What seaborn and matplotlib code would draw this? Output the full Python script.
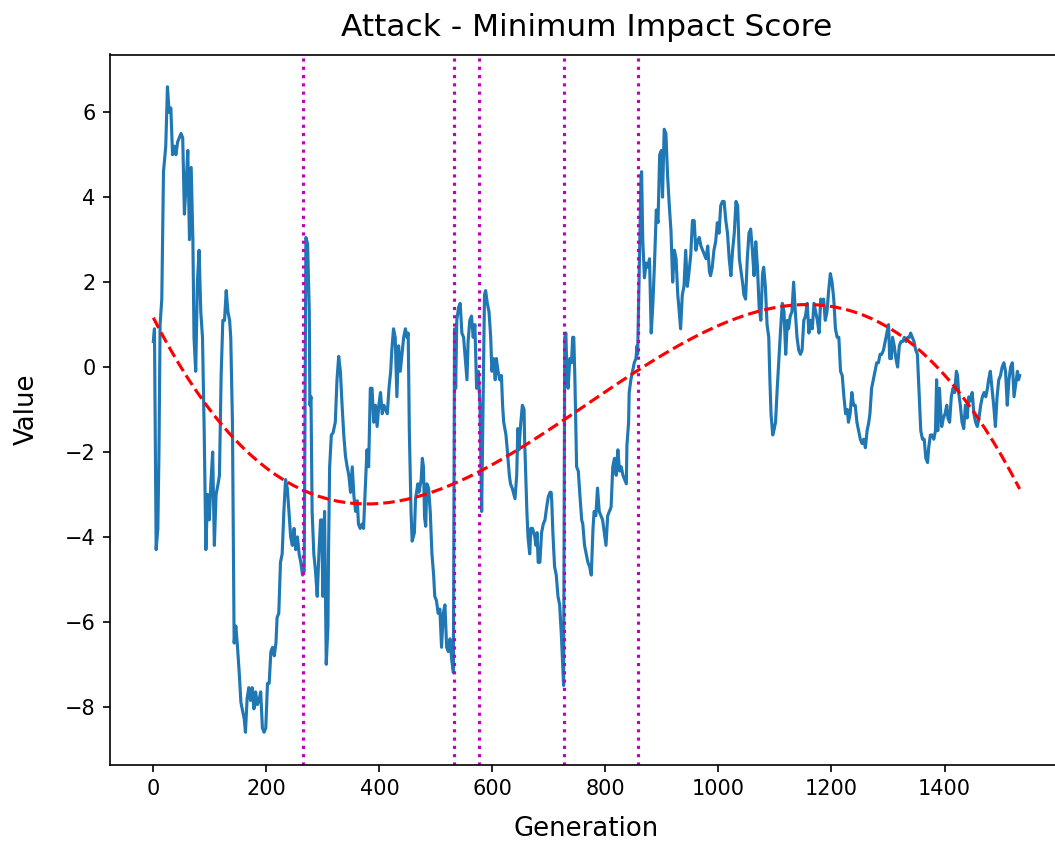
import matplotlib
matplotlib.use("Agg")
import matplotlib.pyplot as plt
import numpy as np
import pandas as pd
import seaborn as sns

# Generation index of each recorded minimum impact score
GENERATION = [
    0, 2, 5, 8, 10, 12, 15, 18, 22, 25,
    28, 31, 34, 37, 40, 43, 46, 49, 52, 55,
    58, 61, 64, 67, 70, 72, 75, 78, 81, 84,
    87, 90, 93, 96, 99, 102, 105, 108, 111, 114,
    117, 120, 123, 126, 129, 132, 135, 137, 140, 143,
    146, 149, 152, 155, 158, 161, 163, 166, 169, 172,
    175, 178, 181, 184, 187, 190, 193, 196, 199, 202,
    205, 208, 211, 214, 217, 219, 222, 225, 228, 231,
    234, 237, 240, 243, 246, 249, 252, 255, 258, 261,
    264, 267, 270, 273, 276, 277, 279, 281, 284, 287,
    290, 293, 296, 298, 300, 303, 306, 309, 310, 312,
    315, 318, 322, 325, 328, 331, 334, 337, 340, 343,
    346, 349, 352, 355, 358, 361, 363, 366, 369, 372,
    375, 378, 381, 384, 387, 390, 393, 396, 399, 402,
    405, 408, 411, 414, 417, 420, 422, 425, 428, 431,
    434, 437, 440, 443, 446, 449, 451, 453, 456, 458,
    462, 464, 468, 470, 474, 476, 478, 480, 482, 484,
    487, 490, 493, 496, 498, 501, 504, 507, 510, 513,
    516, 519, 522, 525, 528, 531, 533, 535, 537, 540,
    543, 546, 549, 552, 555, 557, 560, 563, 566, 569,
    572, 575, 578, 581, 584, 586, 588, 591, 594, 597,
    599, 602, 605, 607, 610, 613, 616, 618, 620, 624,
    626, 630, 632, 635, 640, 643, 645, 647, 650, 653,
    656, 657, 659, 661, 663, 666, 668, 671, 673, 675,
    677, 679, 681, 684, 687, 690, 693, 696, 699, 702,
    704, 705, 707, 710, 713, 716, 719, 722, 725, 726,
    728, 730, 732, 734, 737, 740, 742, 744, 746, 749,
    752, 755, 758, 760, 763, 766, 769, 772, 775, 778,
    780, 783, 786, 789, 792, 795, 798, 801, 804, 807,
    810, 813, 816, 819, 822, 825, 828, 831, 834, 837,
    838, 841, 842, 845, 848, 851, 854, 856, 857, 860,
    863, 864, 866, 869, 872, 875, 878, 881, 884, 887,
    890, 893, 896, 899, 901, 904, 907, 910, 913, 916,
    919, 922, 925, 928, 930, 933, 936, 939, 942, 945,
    948, 951, 954, 957, 960, 963, 966, 969, 972, 975,
    978, 981, 984, 986, 989, 992, 995, 998, 1001, 1004,
    1007, 1010, 1013, 1016, 1019, 1022, 1025, 1028, 1031, 1034,
    1037, 1040, 1043, 1045, 1048, 1051, 1054, 1057, 1060, 1063,
    1066, 1069, 1072, 1075, 1078, 1080, 1083, 1086, 1089, 1091,
    1093, 1096, 1098, 1101, 1104, 1107, 1110, 1113, 1116, 1119,
    1122, 1124, 1127, 1130, 1133, 1136, 1139, 1142, 1145, 1148,
    1151, 1154, 1157, 1160, 1163, 1166, 1169, 1172, 1175, 1178,
    1181, 1183, 1186, 1189, 1192, 1195, 1198, 1201, 1204, 1207,
    1210, 1213, 1216, 1219, 1222, 1225, 1228, 1230, 1233, 1236,
    1239, 1242, 1245, 1248, 1251, 1254, 1257, 1260, 1263, 1266,
    1268, 1271, 1274, 1277, 1280, 1283, 1286, 1289, 1292, 1295,
    1298, 1301, 1303, 1306, 1308, 1311, 1314, 1317, 1320, 1323,
    1326, 1329, 1332, 1335, 1338, 1340, 1343, 1346, 1349, 1352,
    1355, 1358, 1361, 1364, 1367, 1370, 1372, 1375, 1378, 1381,
    1384, 1386, 1388, 1391, 1393, 1395, 1398, 1401, 1404, 1406,
    1409, 1412, 1415, 1418, 1421, 1423, 1425, 1428, 1431, 1434,
    1437, 1440, 1443, 1446, 1449, 1452, 1455, 1458, 1461, 1464,
    1467, 1470, 1473, 1476, 1478, 1481, 1484, 1487, 1490, 1493,
    1496, 1499, 1502, 1505, 1508, 1511, 1514, 1517, 1520, 1523,
    1526, 1529, 1531, 1533,
]

# Minimum impact score of the attack at each generation
IMPACT = [
    0.6, 0.9, -4.3, -3.8, -2.0, 1.0, 1.6, 4.6, 5.2, 6.6,
    6.0, 6.1, 5.0, 5.2, 5.0, 5.3, 5.4, 5.5, 5.4, 3.6,
    4.3, 5.1, 3.0, 4.7, 3.0, 0.7, -0.1, 2.0, 2.75, 1.3,
    0.7, -1.5, -4.3, -3.0, -3.6, -2.7, -2.0, -4.2, -3.0, -2.8,
    -2.55, -0.2, 1.1, 1.1, 1.8, 1.3, 1.1, 0.7, -1.3, -6.5,
    -6.1, -6.6, -7.2, -7.9, -8.1, -8.3, -8.6, -7.8, -7.55, -7.85,
    -7.55, -8.05, -7.65, -7.95, -7.85, -7.65, -8.5, -8.6, -8.5, -7.45,
    -7.45, -6.7, -6.6, -6.8, -6.5, -5.9, -5.8, -4.6, -4.4, -3.4,
    -2.65, -2.85, -3.4, -4.0, -4.2, -3.8, -4.3, -4.0, -4.4, -4.6,
    -4.9, -4.8, 3.05, 2.9, 1.3, -0.9, -0.7, -3.4, -4.4, -4.8,
    -5.4, -4.4, -3.6, -3.6, -5.4, -3.4, -7.0, -6.1, -4.4, -2.35,
    -1.6, -1.55, -1.3, -0.3, 0.25, -0.1, -0.9, -1.6, -2.1, -2.35,
    -2.55, -2.95, -2.35, -3.05, -3.4, -3.15, -3.7, -3.8, -3.7, -3.8,
    -2.85, -1.95, -2.35, -0.5, -0.5, -1.3, -0.9, -1.4, -0.9, -0.6,
    -1.1, -0.9, -1.0, -1.1, -0.5, -0.1, 0.4, 0.9, 0.7, -0.7,
    0.5, -0.1, 0.3, 0.7, 0.9, 0.7, 0.8, -1.5, -3.4, -4.1,
    -3.9, -3.1, -2.75, -2.95, -2.65, -2.15, -2.35, -3.55, -3.75, -2.75,
    -2.85, -3.4, -4.4, -4.9, -5.4, -5.5, -5.8, -5.7, -6.6, -5.8,
    -5.6, -6.6, -6.7, -6.4, -6.9, -7.2, 0.9, -0.5, 1.1, 1.4,
    1.5, 0.8, 0.7, 0.2, -0.3, 0.6, 1.1, 1.2, 0.7, 1.0,
    -0.5, -0.1, -0.9, -3.4, -0.3, 1.7, 1.8, 1.5, 1.3, 0.7,
    -0.1, 0.2, -0.3, 0.2, -0.1, -0.3, -0.2, -0.9, -1.3, -1.6,
    -1.9, -2.55, -2.75, -2.85, -3.1, -2.55, -1.45, -1.95, -1.35, -0.9,
    -1.0, -1.7, -2.55, -3.4, -4.0, -4.4, -3.8, -3.8, -3.9, -4.0,
    -4.2, -3.9, -4.6, -4.6, -3.9, -3.7, -3.6, -3.3, -3.05, -2.95,
    -2.95, -3.15, -3.9, -4.7, -4.9, -5.4, -5.6, -6.3, -7.2, -7.5,
    0.7, 0.8, -0.2, -0.5, 0.2, 0.1, 0.7, 0.7, -0.3, -2.35,
    -2.45, -3.05, -3.6, -3.7, -4.2, -4.4, -4.6, -4.7, -4.9, -3.8,
    -3.4, -3.5, -2.85, -3.4, -3.5, -3.6, -3.9, -4.2, -3.5, -3.4,
    -3.3, -2.35, -2.15, -2.55, -1.95, -2.45, -2.35, -2.55, -2.65, -2.75,
    -1.85, -1.3, -0.6, -0.3, -0.1, 0.1, 0.2, 0.5, 0.3, 2.35,
    4.5, 4.6, 3.0, 2.1, 2.45, 2.35, 2.55, 0.8, 1.5, 2.5,
    3.7, 3.4, 5.0, 5.1, 4.0, 5.6, 5.5, 4.5, 3.8, 3.2,
    2.0, 2.75, 2.55, 1.7, 1.4, 0.9, 1.7, 1.9, 2.75, 1.9,
    2.25, 2.65, 3.45, 3.45, 2.75, 2.95, 3.05, 2.85, 2.75, 2.65,
    2.55, 2.85, 2.25, 2.15, 2.35, 2.75, 2.95, 3.4, 3.15, 3.8,
    3.9, 3.9, 3.45, 3.15, 2.55, 2.15, 2.75, 3.15, 3.9, 3.8,
    2.55, 2.25, 1.95, 1.7, 1.6, 2.55, 3.15, 3.25, 2.75, 2.15,
    2.95, 2.35, 1.4, 1.1, 2.2, 2.35, 1.9, 1.0, 0.7, -0.3,
    -1.1, -1.6, -1.5, -1.3, -0.5, 0.2, 0.9, 1.5, 1.3, 0.3,
    1.1, 0.9, 1.2, 1.3, 2.0, 1.3, 0.7, 0.4, 0.3, 0.4,
    1.1, 1.2, 1.5, 0.8, 1.1, 0.9, 1.5, 1.3, 1.1, 0.8,
    1.6, 1.5, 1.6, 1.1, 1.3, 1.8, 2.2, 2.0, 1.6, 0.9,
    0.7, 0.7, -0.1, -0.2, -0.7, -1.1, -1.0, -1.3, -1.1, -0.6,
    -0.9, -0.9, -1.3, -1.5, -1.7, -1.8, -1.7, -1.9, -1.5, -1.3,
    -1.1, -0.5, -0.3, -0.1, 0.1, 0.1, 0.3, 0.3, 0.4, 0.6,
    0.8, 1.0, 0.2, 0.2, 0.7, 0.5, 0.2, 0.0, 0.5, 0.6,
    0.6, 0.7, 0.6, 0.7, 0.7, 0.8, 0.7, 0.6, 0.4, 0.3,
    -0.6, -1.5, -1.7, -1.7, -2.15, -2.25, -1.9, -1.6, -1.6, -1.7,
    -1.5, -0.3, -1.5, -0.5, -1.0, -1.4, -1.2, -1.1, -0.9, -1.2,
    -1.3, -0.7, -0.5, -0.6, -0.1, -0.2, -0.6, -0.9, -1.3, -1.45,
    -0.9, -1.2, -0.7, -0.8, -0.6, -1.1, -1.3, -1.4, -1.2, -0.9,
    -0.7, -0.6, -0.7, -0.5, -0.3, -0.1, -0.5, -0.9, -1.4, -0.7,
    -0.3, -0.2, 0.0, 0.1, -0.1, -0.9, -0.3, 0.0, 0.1, -0.7,
    -0.4, -0.1, -0.3, -0.2,
]

# Generations at which an event was flagged
EVENT_GENERATIONS = [265, 532, 576, 726, 857]

assert len(GENERATION) == len(IMPACT)

df = pd.DataFrame({"Generation": GENERATION, "Value": IMPACT})

W, H, DPI = 1055, 850, 150
fig = plt.figure(figsize=(W / DPI, H / DPI), dpi=DPI)
ax = fig.add_axes([110 / W, 1 - 764.5 / H, 953 / W, 710 / H])

sns.lineplot(data=df, x="Generation", y="Value", ax=ax,
             color="#1f77b4", linewidth=1.5, estimator=None)

# Cubic trend of the score over generations
sns.regplot(data=df, x="Generation", y="Value", ax=ax, order=3,
            scatter=False, ci=None, truncate=True,
            line_kws={"color": "red", "linestyle": "--", "linewidth": 1.5})

for g in EVENT_GENERATIONS:
    ax.axvline(g, color="m", linestyle=":", linewidth=1.5)

ax.set_title("Attack - Minimum Impact Score", fontsize=15, pad=9)
ax.set_xlabel("Generation", fontsize=12.5, labelpad=8)
ax.set_ylabel("Value", fontsize=12.5, labelpad=12)
ax.set_xticks([0, 200, 400, 600, 800, 1000, 1200, 1400])
ax.set_yticks([-8, -6, -4, -2, 0, 2, 4, 6])
ax.spines["right"].set_visible(False)

fig.savefig("out.png", dpi=DPI)
